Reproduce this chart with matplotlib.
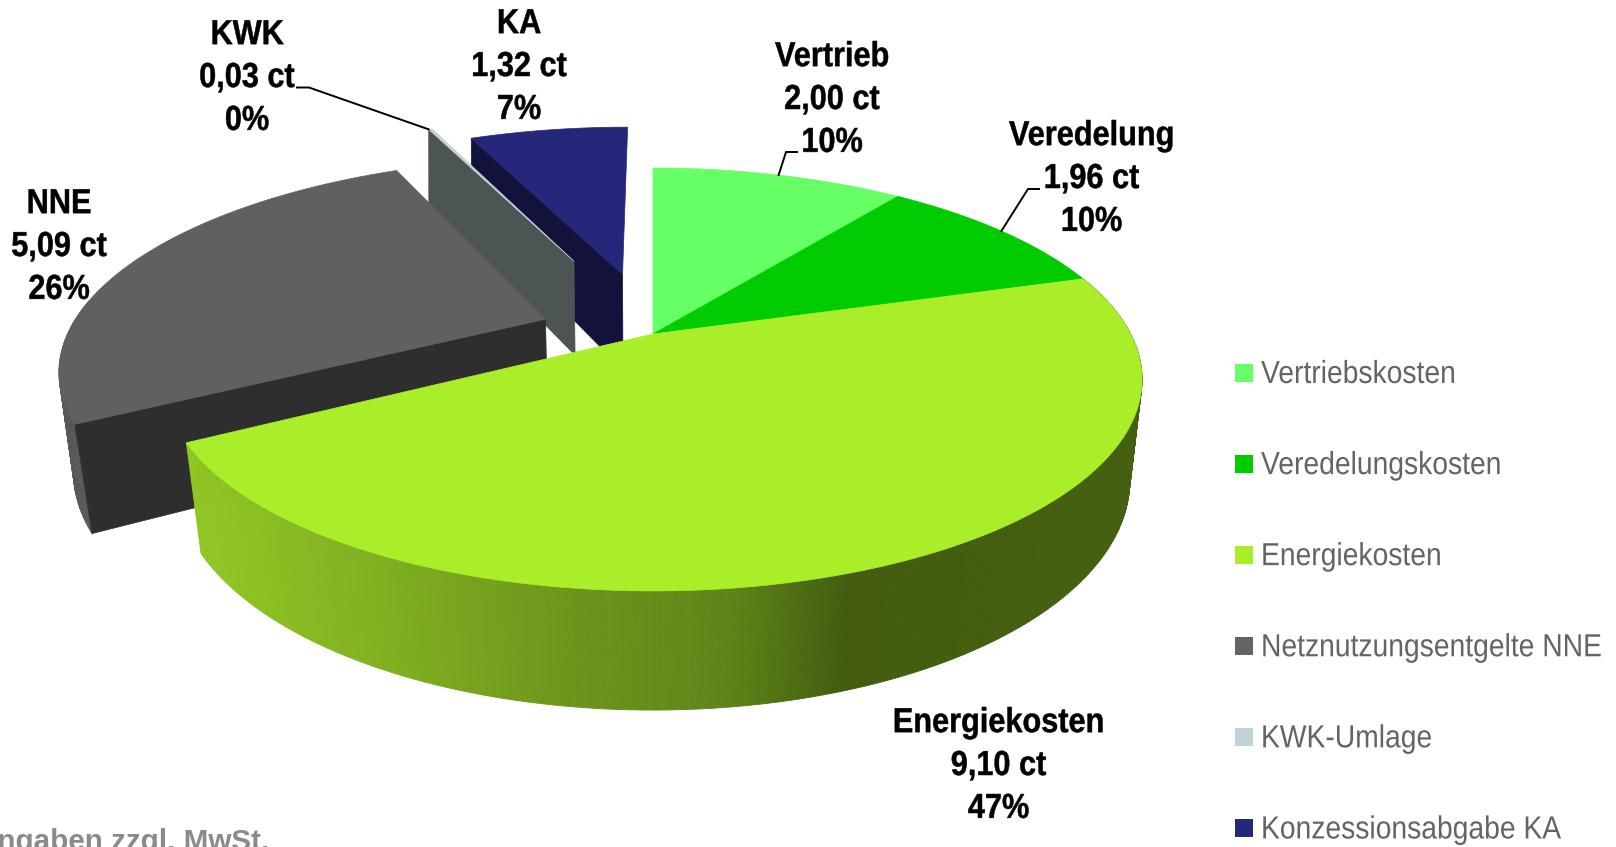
import numpy as np
import matplotlib
matplotlib.use("Agg")
import matplotlib.pyplot as plt
from matplotlib.collections import PolyCollection
from matplotlib.patches import Patch
from matplotlib.colors import to_rgb
from matplotlib.patheffects import AbstractPathEffect
from matplotlib.transforms import Affine2D

plt.rcParams['font.family'] = ['Liberation Sans', 'DejaVu Sans']

# ---- data
short_names = ["Vertrieb", "Veredelung", "Energiekosten", "NNE", "KWK", "KA"]
legend_names = ["Vertriebskosten", "Veredelungskosten", "Energiekosten",
                "Netznutzungsentgelte NNE", "KWK-Umlage", "Konzessionsabgabe KA"]
values = [2.00, 1.96, 9.10, 5.09, 0.03, 1.32]
value_labels = ["2,00 ct", "1,96 ct", "9,10 ct", "5,09 ct", "0,03 ct", "1,32 ct"]
percent_labels = ["10%", "10%", "47%", "26%", "0%", "7%"]

# ---- styles
top_colors = ["#66ff66", "#00cc00", "#aaee2a", "#606060", "#c0d3d6", "#25277a"]
radial_wall_colors = [None, None, None, "#2e2e2e", "#4d5554", "#12123a"]
outer_wall_colors = [None, None, None, "#585858", None, None]
legend_colors = ["#66ff66", "#00cc00", "#aaee2a", "#646464", "#c0d3d6", "#25277a"]
explode = [0, 0, 0, 0.2406, 0.43, 0.3228]

FIG_W, FIG_H = 1616, 847
CX, CY_TOP = 653, 334
A_TOP, B_TOP, K_TOP = 477.6, 201.7, 0.215
CY_LOW, A_LOW, B_LOW, K_LOW = 435.5, 467.6, 221.0, 0.195
TEXT_TALL = 1.13


class Tall(AbstractPathEffect):
    """Draws a text taller about each line's baseline, with an optional thin stroke."""
    def __init__(self, sy, stroke=0.0):
        super().__init__()
        self.sy, self.stroke = sy, stroke

    def draw_path(self, renderer, gc, tpath, affine, rgbFace=None):
        gc0 = renderer.new_gc()
        gc0.copy_properties(gc)
        gc0.set_linewidth(self.stroke)
        renderer.draw_path(gc0, tpath, Affine2D().scale(1, self.sy) + affine, rgbFace)
        gc0.restore()


def project(u, v, low=False):
    """Perspective projection of the pie's unit-disc coordinates to the canvas."""
    u, v = np.asarray(u, float), np.asarray(v, float)
    if low:
        d = 1 + K_LOW * v
        return CX + A_LOW * u / d, CY_LOW - B_LOW * v / d
    d = 1 + K_TOP * v
    return CX + A_TOP * u / d, CY_TOP - B_TOP * v / d


total = sum(values)
edges = np.concatenate([[0], np.cumsum(values)]) / total * 2 * np.pi
starts, ends = edges[:-1], edges[1:]


def offset(i):
    mid = (starts[i] + ends[i]) / 2
    return explode[i] * np.sin(mid), explode[i] * np.cos(mid)


def rim(i, t, low=False):
    du, dv = offset(i)
    return project(du + np.sin(t), dv + np.cos(t), low)


def wedge_top(i):
    t = np.linspace(starts[i], ends[i], 200)
    du, dv = offset(i)
    x, y = rim(i, t)
    ax0, ay0 = project(du, dv)
    return np.r_[ax0, x], np.r_[ay0, y]


def radial_wall(i):
    du, dv = offset(i)
    a0 = project(du, dv)
    a1 = project(du, dv, True)
    r0 = rim(i, starts[i])
    r1 = rim(i, starts[i], True)
    return [a0[0], r0[0], r1[0], a1[0]], [a0[1], r0[1], r1[1], a1[1]]


def wall_quads(i, t):
    xt, yt = rim(i, t)
    xb, yb = rim(i, t, True)
    return [[(xt[j], yt[j]), (xt[j + 1], yt[j + 1]), (xb[j + 1], yb[j + 1]), (xb[j], yb[j])]
            for j in range(len(t) - 1)]


fig = plt.figure(figsize=(FIG_W / 100, FIG_H / 100), dpi=100)
ax = fig.add_axes([0, 0, 1, 1])
ax.set_xlim(0, FIG_W)
ax.set_ylim(FIG_H, 0)
ax.axis("off")

# back-to-front: KA, KWK, NNE, the two green slices, Energiekosten
for i in (5, 4, 3):
    if outer_wall_colors[i]:
        t = np.linspace(starts[i], starts[i] + 0.6, 40)
        ax.add_collection(PolyCollection(wall_quads(i, t), facecolors=outer_wall_colors[i],
                                         edgecolors=outer_wall_colors[i], linewidths=0.5))
    wx, wy = radial_wall(i)
    ax.fill(wx, wy, color=radial_wall_colors[i], lw=0.5)
    x, y = wedge_top(i)
    ax.fill(x, y, color=top_colors[i], lw=0.5)

for i in (0, 1):
    x, y = wedge_top(i)
    ax.fill(x, y, color=top_colors[i], lw=0.5)

# shaded outer wall of the Energiekosten slice
i = 2
t = np.linspace(starts[i], ends[i], 400)
xb, yb = rim(i, t, True)
stops_x = [196, 400, 562, 722, 790, 840, 1140]
stops_c = [np.array(to_rgb(c)) for c in
           ("#92c824", "#7fae20", "#6e961c", "#5f8518", "#4f6e13", "#435c0f", "#446010")]
cols = []
for j in range(len(t) - 1):
    xm = (xb[j] + xb[j + 1]) / 2
    cols.append([np.interp(xm, stops_x, [c[k] for c in stops_c]) for k in range(3)])
ax.add_collection(PolyCollection(wall_quads(i, t), facecolors=cols, edgecolors=cols, linewidths=0.6))
x, y = wedge_top(i)
ax.fill(x, y, color=top_colors[i], lw=0.5)

# leader lines
leader_kw = dict(color="black", lw=1.4, solid_joinstyle="miter")
mid0 = (starts[0] + ends[0]) / 2
p = rim(0, mid0)
ax.plot([p[0], 786, 797], [p[1], 152, 152], **leader_kw)
mid1 = (starts[1] + ends[1]) / 2
p = rim(1, mid1)
ax.plot([p[0], 1028, 1039], [p[1], 189, 189], **leader_kw)
p = rim(4, starts[4])
ax.plot([p[0], 309, 297], [p[1], 87.5, 87.5], **leader_kw)

# data labels
label_pos = [(832, 101), (1091.5, 180), (998.5, 767), (59, 248), (247, 79), (519, 68)]
for n, val, pct, (lx, ly) in zip(short_names, value_labels, percent_labels, label_pos):
    txt = ax.text(lx, ly, f"{n}\n{val}\n{pct}", ha="center", va="center", fontsize=22.1,
                  fontweight="bold", color="black", linespacing=1.56)
    txt.set_path_effects([Tall(TEXT_TALL, 0.35)])

# legend
handles = [Patch(facecolor=c, edgecolor="none") for c in legend_colors]
leg = ax.legend(handles, legend_names, loc="upper left", bbox_to_anchor=(1235 / FIG_W, 1 - 363 / FIG_H),
                frameon=False, fontsize=20.35, labelcolor="#646464", handlelength=0.637,
                handleheight=0.603, handletextpad=0.283, labelspacing=2.303, borderpad=0, borderaxespad=0)
for txt in leg.get_texts():
    txt.set_path_effects([Tall(TEXT_TALL)])

# footnote, cut off by the canvas as in the source
ax.text(269, 850, "Angaben zzgl. MwSt.", ha="right", va="baseline", fontsize=21.3, fontweight="bold",
        color="#8a8a8a")

fig.savefig("out.png", dpi=100)
